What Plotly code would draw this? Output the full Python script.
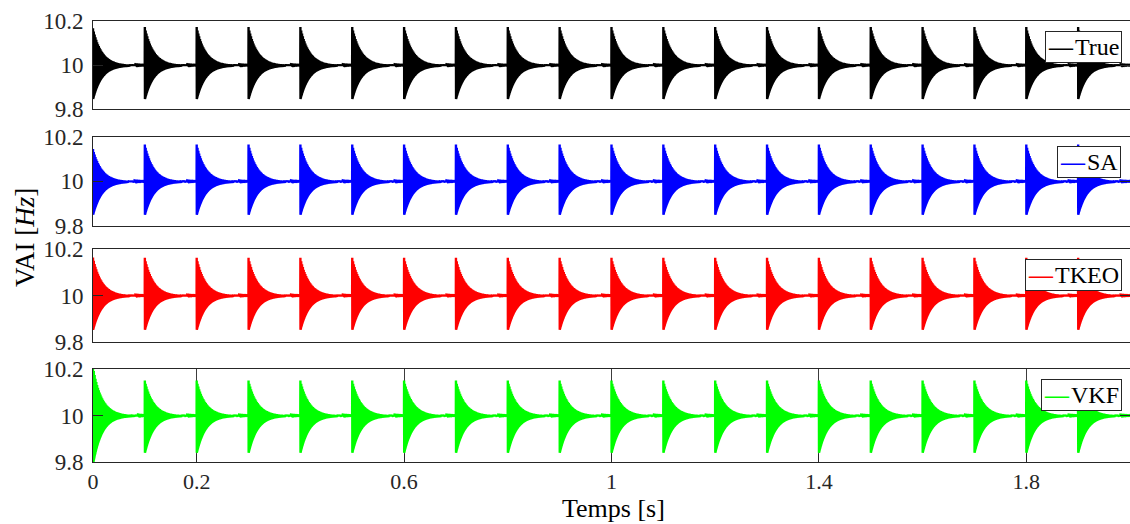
import numpy as np
import plotly.graph_objects as go
from plotly.subplots import make_subplots

# ---------------- data ----------------
burst_times = [0.0, 0.1, 0.2, 0.3, 0.4, 0.5, 0.6, 0.7, 0.8, 0.9,
               1.0, 1.1, 1.2, 1.3, 1.4, 1.5, 1.6, 1.7, 1.8, 1.9]
decay_tau = 0.017          # s, decay time constant of each burst
base_freq = 10.0           # Hz

true_up   = [0.167] + [0.173] * 19
true_down = [0.155] * 20
sa_up     = [0.145] + [0.165] * 19
sa_down   = [0.151] * 20
tkeo_up   = [0.165] + [0.163] * 19
tkeo_down = [0.150] * 20
vkf_up    = [0.210] + [0.150] * 19
vkf_down  = [0.210] + [0.162] * 19

series_names = ["True", "SA", "TKEO", "VKF"]
series_up = [true_up, sa_up, tkeo_up, vkf_up]
series_down = [true_down, sa_down, tkeo_down, vkf_down]
series_colors = ["#000000", "#0000ff", "#ff0000", "#00ff00"]

x_tickvals = [0, 0.2, 0.6, 1, 1.4, 1.8]
x_ticktext = ["0", "0.2", "0.6", "1", "1.4", "1.8"]
y_tickvals = [9.8, 10, 10.2]
y_ticktext = ["9.8", "10", "10.2"]

# ---------------- build oscillating signals ----------------
dt = 0.0002
t = np.round(np.arange(0, 2.0 + dt / 2, dt), 6)
bt = np.array(burst_times)
k = np.clip(np.searchsorted(bt, t + 1e-9, side="right") - 1, 0, len(bt) - 1)
age = t - bt[k]
env = np.exp(-age / decay_tau)
sign = np.where(np.arange(len(t)) % 2 == 0, 1.0, -1.0)


def make_signal(up, down):
    up = np.array(up)[k]
    down = np.array(down)[k]
    amp = np.where(sign > 0, up, -down)
    return np.round(base_freq + amp * env, 4)


# ---------------- figure ----------------
W, H = 1130, 524
ml, mr, mt, mb = 93, 0, 21, 62
ph = H - mt - mb
pw = W - ml - mr


def py(p):
    return (H - mb - p) / ph


def px(p):
    return (p - ml) / pw


panel_px = [(21, 109.3), (136.7, 226), (249.3, 341.7), (369, 462)]
legend_tops = [31, 146, 259, 379]
legend_right = [1122, 1121, 1122, 1122]

fig = make_subplots(rows=4, cols=1, shared_xaxes=False)

FONT = "Liberation Serif"
axcol = "#262626"

for i in range(4):
    y = make_signal(series_up[i], series_down[i])
    fig.add_trace(
        go.Scatter(x=t, y=y, mode="lines", name=series_names[i],
                   line=dict(color=series_colors[i], width=2.4),
                   showlegend=False, hoverinfo="skip"),
        row=i + 1, col=1)

    top, bot = panel_px[i]
    ax = "yaxis" if i == 0 else f"yaxis{i+1}"
    xa = "xaxis" if i == 0 else f"xaxis{i+1}"
    fig.layout[ax].update(
        domain=[py(bot), py(top)], range=[9.8, 10.2],
        tickvals=y_tickvals, ticktext=y_ticktext,
        ticks="inside", ticklen=10, tickcolor=axcol, tickwidth=1,
        showline=True, linecolor=axcol, linewidth=1, mirror="ticks",
        showgrid=False, zeroline=False,
        tickfont=dict(family=FONT, size=23, color="#262626"),
        ticklabelstandoff=4)
    last = (i == 3)
    fig.layout[xa].update(
        domain=[0, 1], range=[0, 2],
        tickvals=x_tickvals, ticktext=x_ticktext,
        showticklabels=last, ticks="inside" if last else "",
        ticklen=8, tickcolor=axcol,
        showline=True, linecolor=axcol, linewidth=1, mirror=True,
        showgrid=last, gridcolor="#3c3c3c", gridwidth=1, zeroline=False,
        tickfont=dict(family=FONT, size=22, color="#262626"))

    # legend box (line sample + series name)
    fig.add_annotation(
        text=(f"<span style='color:{series_colors[i]}'><b>\u2014</b></span>"
              f"\u200a{series_names[i]}"),
        showarrow=False, xref="paper", yref="paper",
        x=px(legend_right[i]), y=py(legend_tops[i]),
        xanchor="right", yanchor="top", align="left",
        bgcolor="white", bordercolor="#262626", borderwidth=1, borderpad=2,
        font=dict(family=FONT, size=24, color="#000000"))

fig.add_annotation(text="VAI [<i>Hz</i>]", textangle=-90, showarrow=False,
                   xref="paper", yref="paper", x=px(25),
                   y=py(238), xanchor="center", yanchor="middle",
                   font=dict(family=FONT, size=27, color="#000000"))
fig.add_annotation(text="Temps [s]", showarrow=False,
                   xref="paper", yref="paper", x=px(613),
                   y=py(508), xanchor="center", yanchor="middle",
                   font=dict(family=FONT, size=26, color="#000000"))

fig.update_layout(width=W, height=H, margin=dict(l=ml, r=mr, t=mt, b=mb),
                  paper_bgcolor="white", plot_bgcolor="white",
                  showlegend=False)

fig.write_html("out.html", config={"displayModeBar": False},
               post_script="document.body.style.margin='0';"
                           "document.body.style.overflow='hidden';")
